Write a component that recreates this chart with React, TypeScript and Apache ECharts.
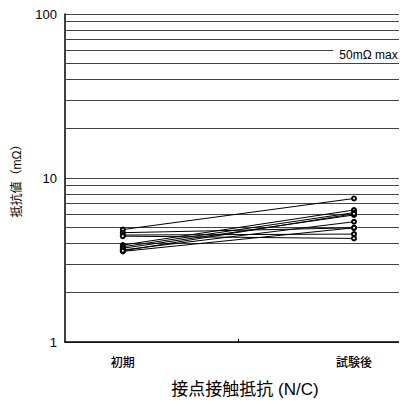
import React, { useEffect, useRef } from "react";
import * as echarts from "echarts";

const CATEGORIES = ["初期", "試験後"];
const CATEGORY_POS = [0.17, 0.85];
const INITIAL = [4.85, 4.64, 4.49, 4.42, 3.9, 3.81, 3.73, 3.64, 3.57, 3.6];
const AFTER = [7.5, 4.97, 4.55, 4.28, 6.38, 6.15, 5.95, 5.41, 4.97, 6.05];
const GRID_VALUES = [2, 3, 4, 5, 6, 7, 8, 9, 20, 30, 40, 50, 60, 70, 80, 90];
const LIMIT_VALUE = 50;
const LIMIT_LABEL = "50mΩ max.";

const FONT = "'Liberation Sans', Arial, 'Noto Sans CJK JP', sans-serif";

export default function App() {
  const ref = useRef<HTMLDivElement>(null);
  useEffect(() => {
    if (!ref.current) return;
    const chart = echarts.init(ref.current, null, { renderer: "svg" });
    const lineColor = "#444";
    const series: any[] = INITIAL.map((v0, i) => ({
      type: "line",
      data: [
        [CATEGORY_POS[0], v0],
        [CATEGORY_POS[1], AFTER[i]],
      ],
      symbol: "emptyCircle",
      symbolSize: 4,
      itemStyle: { color: "#000", borderWidth: 1 },
      lineStyle: { color: "#000", width: 1 },
      silent: true,
      z: 3,
    }));
    series[0].markLine = {
      silent: true,
      symbol: "none",
      animation: false,
      lineStyle: { color: lineColor, width: 1, type: "solid" },
      label: { show: false },
      data: GRID_VALUES.map((g) =>
        g === LIMIT_VALUE
          ? {
              yAxis: g,
              label: {
                show: true,
                position: "insideEndTop",
                formatter: LIMIT_LABEL,
                color: "#000",
                fontSize: 12,
                fontFamily: FONT,
                backgroundColor: "#fff",
                padding: [1, 3, 1, 6],
                distance: 1,
              },
            }
          : { yAxis: g }
      ),
      z: 1,
    };
    chart.setOption({
      animation: false,
      grid: { left: 65, right: 2, top: 14, bottom: 64 },
      xAxis: {
        type: "value",
        min: 0,
        max: 1,
        name: "接点接触抵抗 (N/C)",
        nameLocation: "middle",
        nameGap: 39,
        nameTextStyle: {
          fontSize: 17,
          color: "#000",
          fontFamily: FONT,
          padding: [0, 0, 0, 20],
        },
        axisLine: { show: true, lineStyle: { color: "#000", width: 1.5 } },
        splitLine: { show: false },
        axisTick: {
          show: true,
          inside: true,
          length: 3,
          customValues: [(CATEGORY_POS[0] + CATEGORY_POS[1]) / 2],
          lineStyle: { color: "#000" },
        },
        axisLabel: {
          show: true,
          customValues: CATEGORY_POS,
          formatter: (v: number) => {
            const idx = CATEGORY_POS.findIndex((p) => Math.abs(p - v) < 1e-6);
            return idx >= 0 ? CATEGORIES[idx] : "";
          },
          margin: 15,
          fontSize: 12,
          fontWeight: 500,
          color: "#000",
          fontFamily: FONT,
        },
      },
      yAxis: {
        type: "log",
        logBase: 10,
        min: 1,
        max: 100,
        name: "抵抗値（mΩ）",
        nameLocation: "middle",
        nameGap: 42,
        nameRotate: 90,
        nameTextStyle: { fontSize: 12, color: "#000", fontFamily: FONT },
        axisLine: { show: true, lineStyle: { color: "#000", width: 1.5 } },
        axisTick: { show: false },
        axisLabel: { fontSize: 13, color: "#000", margin: 8, fontFamily: FONT },
        splitLine: { show: true, lineStyle: { color: lineColor, width: 1 } },
      },
      series,
    });
    return () => chart.dispose();
  }, []);
  return <div ref={ref} style={{ width: 407, height: 406, margin: -8 }} />;
}
